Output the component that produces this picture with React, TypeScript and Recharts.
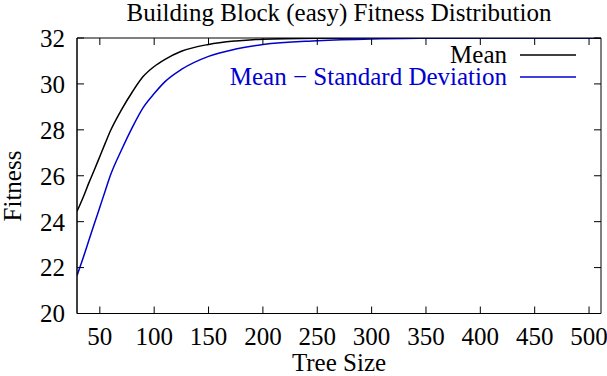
import { LineChart, Line, XAxis, YAxis } from 'recharts';

const treeSizes = [29, 35, 40, 45, 50, 55, 60, 70, 80, 90, 100, 110, 125, 150, 175, 200, 250, 300, 350, 400, 450, 511];
const meanFitness = [24.45, 25.1, 25.7, 26.26, 26.84, 27.42, 27.98, 28.88, 29.66, 30.33, 30.76, 31.07, 31.42, 31.72, 31.87, 31.95, 31.99, 32, 32, 32, 32, 32];
const meanMinusStd = [21.65, 22.47, 23.2, 23.92, 24.63, 25.35, 26.05, 27.13, 28.12, 28.98, 29.58, 30.1, 30.63, 31.2, 31.52, 31.72, 31.88, 31.96, 31.99, 32, 32, 32];

const xTicks = [50, 100, 150, 200, 250, 300, 350, 400, 450, 500];
const yTicks = [20, 22, 24, 26, 28, 30, 32];

const data = treeSizes.map((size, i) => ({ size, mean: meanFitness[i], lower: meanMinusStd[i] }));

const FONT = '"Liberation Serif", "Times New Roman", serif';
const BLUE = '#0000d0';
const X_DOMAIN: [number, number] = [29, 511];
const Y_DOMAIN: [number, number] = [20, 32];
const TICK_LEN = 7;

const tickFont = { fill: '#000', fontSize: 25, fontFamily: FONT };

// the mirrored axes only carry the inward tick marks (gnuplot style)
const NoLabel = () => <g />;

export default function App() {
  return (
    <div style={{ position: 'absolute', left: 0, top: 0, width: 607, height: 376, background: '#fff', fontFamily: FONT }}>
      <LineChart width={607} height={376} data={data} margin={{ top: 38, right: 6, left: 0, bottom: 0 }}>
        {/* labelled axes */}
        <XAxis
          xAxisId="x"
          dataKey="size"
          type="number"
          domain={X_DOMAIN}
          ticks={xTicks}
          interval={0}
          allowDataOverflow
          height={62.5}
          tickSize={0}
          tickMargin={13.5}
          tickLine={false}
          axisLine={{ stroke: '#000' }}
          tick={tickFont}
        />
        <YAxis
          yAxisId="y"
          type="number"
          domain={Y_DOMAIN}
          ticks={yTicks}
          interval={0}
          allowDataOverflow
          width={77}
          tickSize={0}
          tickMargin={12}
          tickLine={false}
          axisLine={{ stroke: '#000' }}
          tick={tickFont}
        />
        {/* inward tick marks on all four sides */}
        <XAxis
          xAxisId="xin"
          dataKey="size"
          mirror
          type="number"
          domain={X_DOMAIN}
          ticks={xTicks}
          interval={0}
          allowDataOverflow
          height={TICK_LEN}
          tickSize={TICK_LEN}
          tick={NoLabel}
          axisLine={{ stroke: '#000' }}
          tickLine={{ stroke: '#000' }}
        />
        <YAxis
          yAxisId="yin"
          mirror
          type="number"
          domain={Y_DOMAIN}
          ticks={yTicks}
          interval={0}
          allowDataOverflow
          width={TICK_LEN}
          tickSize={TICK_LEN}
          tick={NoLabel}
          axisLine={{ stroke: '#000' }}
          tickLine={{ stroke: '#000' }}
        />
        <XAxis
          xAxisId="top"
          dataKey="size"
          orientation="top"
          mirror
          type="number"
          domain={X_DOMAIN}
          ticks={xTicks}
          interval={0}
          allowDataOverflow
          height={TICK_LEN}
          tickSize={TICK_LEN}
          tick={NoLabel}
          axisLine={{ stroke: '#000' }}
          tickLine={{ stroke: '#000' }}
        />
        <YAxis
          yAxisId="right"
          orientation="right"
          mirror
          type="number"
          domain={Y_DOMAIN}
          ticks={yTicks}
          interval={0}
          allowDataOverflow
          width={TICK_LEN}
          tickSize={TICK_LEN}
          tick={NoLabel}
          axisLine={{ stroke: '#000' }}
          tickLine={{ stroke: '#000' }}
        />
        {/* invisible series so the tick-only axes are drawn */}
        <Line xAxisId="xin" yAxisId="yin" type="monotone" dataKey="mean" stroke="none" dot={false} activeDot={false} legendType="none" isAnimationActive={false} />
        <Line xAxisId="top" yAxisId="right" type="monotone" dataKey="mean" stroke="none" dot={false} activeDot={false} legendType="none" isAnimationActive={false} />
        <Line xAxisId="x" yAxisId="y" type="monotone" dataKey="mean" stroke="#000" strokeWidth={1.5} dot={false} isAnimationActive={false} />
        <Line xAxisId="x" yAxisId="y" type="monotone" dataKey="lower" stroke={BLUE} strokeWidth={1.5} dot={false} isAnimationActive={false} />
      </LineChart>
      <svg width={607} height={376} style={{ position: 'absolute', left: 0, top: 0, pointerEvents: 'none' }} fontFamily={FONT}>
        <text x={339} y={21} textAnchor="middle" fontSize={25} fill="#000">Building Block (easy) Fitness Distribution</text>
        <text x={339} y={371} textAnchor="middle" fontSize={25} fill="#000">Tree Size</text>
        <text transform="translate(21,186) rotate(-90)" textAnchor="middle" fontSize={25} fill="#000">Fitness</text>
        <text x={507} y={63} textAnchor="end" fontSize={25} fill="#000">Mean</text>
        <line x1={520} x2={576} y1={55} y2={55} stroke="#000" strokeWidth={1.5} />
        <text x={507} y={85} textAnchor="end" fontSize={25} fill={BLUE}>Mean − Standard Deviation</text>
        <line x1={520} x2={576} y1={77} y2={77} stroke={BLUE} strokeWidth={1.5} />
      </svg>
    </div>
  );
}
